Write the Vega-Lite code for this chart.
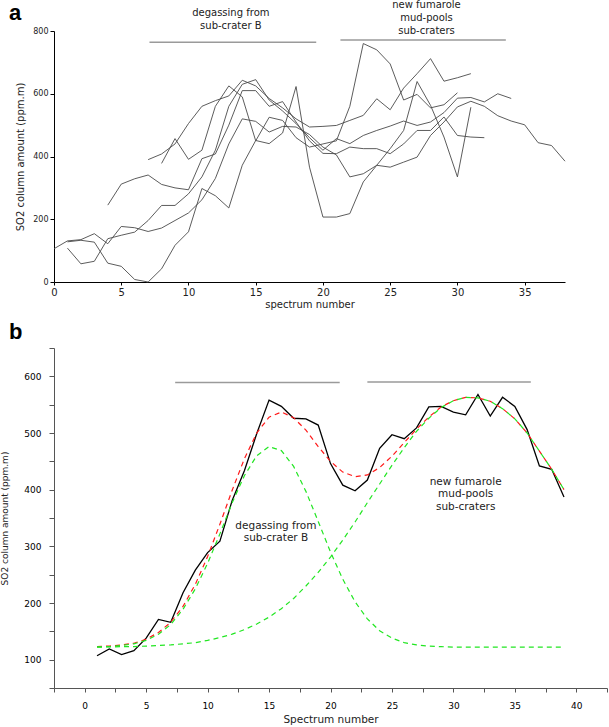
{
  "$schema": "https://vega.github.io/schema/vega-lite/v6.json",
  "padding": {"left": 0, "top": 0, "right": 0, "bottom": 0},
  "background": "white",
  "config": {"view": {"stroke": null}, "font": "DejaVu Sans", "title": {"font": "Liberation Sans"}},
  "datasets": {
    "a_lines": [
      {"s":"A","x":0,"y":106},{"s":"A","x":1,"y":131},{"s":"A","x":2,"y":135},{"s":"A","x":3,"y":154},{"s":"A","x":4,"y":122},{"s":"A","x":5,"y":177},{"s":"A","x":6,"y":173},{"s":"A","x":7,"y":161},{"s":"A","x":8,"y":172},{"s":"A","x":9,"y":196},{"s":"A","x":10,"y":220},{"s":"A","x":11,"y":262},{"s":"A","x":12,"y":330},{"s":"A","x":13,"y":440},{"s":"A","x":14,"y":520},{"s":"A","x":15,"y":512},{"s":"A","x":16,"y":478},{"s":"A","x":17,"y":496},{"s":"A","x":18,"y":494},{"s":"A","x":19,"y":470},{"s":"A","x":20,"y":430},{"s":"A","x":21,"y":405},{"s":"A","x":22,"y":335},{"s":"A","x":23,"y":345},{"s":"A","x":24,"y":372},{"s":"A","x":25,"y":366},{"s":"A","x":26,"y":382},{"s":"A","x":27,"y":398},{"s":"A","x":28,"y":467},{"s":"A","x":29,"y":510},{"s":"A","x":30,"y":558},{"s":"A","x":31,"y":576},{"s":"A","x":32,"y":560},{"s":"A","x":33,"y":530},{"s":"A","x":34,"y":513},{"s":"A","x":35,"y":501},{"s":"A","x":36,"y":444},{"s":"A","x":37,"y":435},{"s":"A","x":38,"y":385},
      {"s":"B","x":1,"y":108},{"s":"B","x":2,"y":58},{"s":"B","x":3,"y":66},{"s":"B","x":4,"y":138},{"s":"B","x":5,"y":149},{"s":"B","x":6,"y":159},{"s":"B","x":7,"y":196},{"s":"B","x":8,"y":244},{"s":"B","x":9,"y":244},{"s":"B","x":10,"y":281},{"s":"B","x":11,"y":335},{"s":"B","x":12,"y":420},{"s":"B","x":13,"y":560},{"s":"B","x":14,"y":630},{"s":"B","x":15,"y":645},{"s":"B","x":16,"y":580},{"s":"B","x":17,"y":545},{"s":"B","x":18,"y":505},{"s":"B","x":19,"y":460},{"s":"B","x":20,"y":420},{"s":"B","x":21,"y":457},{"s":"B","x":22,"y":441},{"s":"B","x":23,"y":467},{"s":"B","x":24,"y":483},{"s":"B","x":25,"y":497},{"s":"B","x":26,"y":513},{"s":"B","x":27,"y":499},{"s":"B","x":28,"y":510},{"s":"B","x":29,"y":540},{"s":"B","x":30,"y":586},{"s":"B","x":31,"y":588},{"s":"B","x":32,"y":574},{"s":"B","x":33,"y":600},{"s":"B","x":34,"y":585},
      {"s":"C","x":1,"y":128},{"s":"C","x":2,"y":133},{"s":"C","x":3,"y":127},{"s":"C","x":4,"y":60},{"s":"C","x":5,"y":50},{"s":"C","x":6,"y":8},{"s":"C","x":7,"y":0},{"s":"C","x":8,"y":42},{"s":"C","x":9,"y":117},{"s":"C","x":10,"y":160},{"s":"C","x":11,"y":298},{"s":"C","x":12,"y":275},{"s":"C","x":13,"y":236},{"s":"C","x":14,"y":372},{"s":"C","x":15,"y":451},{"s":"C","x":16,"y":441},{"s":"C","x":17,"y":475},{"s":"C","x":18,"y":623},{"s":"C","x":19,"y":366},{"s":"C","x":20,"y":207},{"s":"C","x":21,"y":207},{"s":"C","x":22,"y":218},{"s":"C","x":23,"y":319},{"s":"C","x":24,"y":372},{"s":"C","x":25,"y":425},{"s":"C","x":26,"y":483},{"s":"C","x":27,"y":639},{"s":"C","x":28,"y":563},{"s":"C","x":29,"y":462},{"s":"C","x":30,"y":335},{"s":"C","x":31,"y":557},
      {"s":"D","x":4,"y":245},{"s":"D","x":5,"y":312},{"s":"D","x":6,"y":329},{"s":"D","x":7,"y":341},{"s":"D","x":8,"y":311},{"s":"D","x":9,"y":300},{"s":"D","x":10,"y":294},{"s":"D","x":11,"y":393},{"s":"D","x":12,"y":408},{"s":"D","x":13,"y":500},{"s":"D","x":14,"y":610},{"s":"D","x":15,"y":610},{"s":"D","x":16,"y":560},{"s":"D","x":17,"y":575},{"s":"D","x":18,"y":510},{"s":"D","x":19,"y":450},{"s":"D","x":20,"y":410},{"s":"D","x":21,"y":409},{"s":"D","x":22,"y":430},{"s":"D","x":23,"y":425},{"s":"D","x":24,"y":425},{"s":"D","x":25,"y":409},{"s":"D","x":26,"y":440},{"s":"D","x":27,"y":483},{"s":"D","x":28,"y":483},{"s":"D","x":29,"y":526},{"s":"D","x":30,"y":467},{"s":"D","x":31,"y":462},{"s":"D","x":32,"y":460},
      {"s":"E","x":7,"y":390},{"s":"E","x":8,"y":408},{"s":"E","x":9,"y":440},{"s":"E","x":10,"y":505},{"s":"E","x":11,"y":560},{"s":"E","x":12,"y":578},{"s":"E","x":13,"y":593},{"s":"E","x":14,"y":643},{"s":"E","x":15,"y":625},{"s":"E","x":16,"y":585},{"s":"E","x":17,"y":555},{"s":"E","x":18,"y":520},{"s":"E","x":19,"y":494},{"s":"E","x":20,"y":496},{"s":"E","x":21,"y":499},{"s":"E","x":22,"y":515},{"s":"E","x":23,"y":531},{"s":"E","x":24,"y":584},{"s":"E","x":25,"y":549},{"s":"E","x":26,"y":618},{"s":"E","x":27,"y":664},{"s":"E","x":28,"y":712},{"s":"E","x":29,"y":640},{"s":"E","x":30,"y":651},{"s":"E","x":31,"y":664},
      {"s":"F","x":8,"y":378},{"s":"F","x":9,"y":457},{"s":"F","x":10,"y":391},{"s":"F","x":11,"y":420},{"s":"F","x":12,"y":560},{"s":"F","x":13,"y":625},{"s":"F","x":14,"y":590},{"s":"F","x":15,"y":450},{"s":"F","x":16,"y":525},{"s":"F","x":17,"y":515},{"s":"F","x":18,"y":460},{"s":"F","x":19,"y":430},{"s":"F","x":20,"y":440},{"s":"F","x":21,"y":450},{"s":"F","x":22,"y":560},{"s":"F","x":23,"y":760},{"s":"F","x":24,"y":740},{"s":"F","x":25,"y":695},{"s":"F","x":26,"y":580},{"s":"F","x":27,"y":598},{"s":"F","x":28,"y":555},{"s":"F","x":29,"y":565},{"s":"F","x":30,"y":603}
    ],
    "a_bars": [
      {"g":"1","x":7.1,"y":764},{"g":"1","x":19.5,"y":764},
      {"g":"2","x":21.3,"y":771},{"g":"2","x":33.6,"y":771}
    ],
    "a_text": [
      {"x":13.15,"y":856,"t":"degassing from"},
      {"x":13.15,"y":815,"t":"sub-crater B"},
      {"x":27.7,"y":882,"t":"new fumarole"},
      {"x":27.7,"y":840,"t":"mud-pools"},
      {"x":27.7,"y":799,"t":"sub-craters"}
    ],
    "b_obs": [
      {"x":1,"y":107},{"x":2,"y":119},{"x":3,"y":109},{"x":4,"y":116},{"x":5,"y":138},{"x":6,"y":171},{"x":7,"y":166},{"x":8,"y":218},{"x":9,"y":258},{"x":10,"y":289},{"x":11,"y":309},{"x":12,"y":381},{"x":13,"y":434},{"x":14,"y":499},{"x":15,"y":558},{"x":16,"y":547},{"x":17,"y":526},{"x":18,"y":525},{"x":19,"y":514},{"x":20,"y":446},{"x":21,"y":408},{"x":22,"y":398},{"x":23,"y":417},{"x":24,"y":473},{"x":25,"y":497},{"x":26,"y":490},{"x":27,"y":509},{"x":28,"y":546},{"x":29,"y":547},{"x":30,"y":537},{"x":31,"y":532},{"x":32,"y":568},{"x":33,"y":530},{"x":34,"y":563},{"x":35,"y":547},{"x":36,"y":506},{"x":37,"y":442},{"x":38,"y":436},{"x":39,"y":387}
    ],
    "b_fit": [
      {"c":"sum","x":1,"y":123},{"c":"sum","x":2,"y":124},{"c":"sum","x":3,"y":126},{"c":"sum","x":4,"y":129},{"c":"sum","x":5,"y":136},{"c":"sum","x":6,"y":148},{"c":"sum","x":7,"y":166},{"c":"sum","x":8,"y":194},{"c":"sum","x":9,"y":233},{"c":"sum","x":10,"y":282},{"c":"sum","x":11,"y":339},{"c":"sum","x":12,"y":399},{"c":"sum","x":13,"y":455},{"c":"sum","x":14,"y":500},{"c":"sum","x":15,"y":528},{"c":"sum","x":16,"y":537},{"c":"sum","x":17,"y":527},{"c":"sum","x":18,"y":505},{"c":"sum","x":19,"y":476},{"c":"sum","x":20,"y":450},{"c":"sum","x":21,"y":431},{"c":"sum","x":22,"y":423},{"c":"sum","x":23,"y":426},{"c":"sum","x":24,"y":439},{"c":"sum","x":25,"y":459},{"c":"sum","x":26,"y":483},{"c":"sum","x":27,"y":507},{"c":"sum","x":28,"y":528},{"c":"sum","x":29,"y":546},{"c":"sum","x":30,"y":557},{"c":"sum","x":31,"y":563},{"c":"sum","x":32,"y":562},{"c":"sum","x":33,"y":556},{"c":"sum","x":34,"y":543},{"c":"sum","x":35,"y":525},{"c":"sum","x":36,"y":500},{"c":"sum","x":37,"y":468},{"c":"sum","x":38,"y":436},{"c":"sum","x":39,"y":400},
      {"c":"g1","x":1,"y":122.5},{"c":"g1","x":2,"y":123},{"c":"g1","x":3,"y":125},{"c":"g1","x":4,"y":128},{"c":"g1","x":5,"y":134},{"c":"g1","x":6,"y":145},{"c":"g1","x":7,"y":162},{"c":"g1","x":8,"y":189},{"c":"g1","x":9,"y":225},{"c":"g1","x":10,"y":270},{"c":"g1","x":11,"y":322},{"c":"g1","x":12,"y":377},{"c":"g1","x":13,"y":425},{"c":"g1","x":14,"y":460},{"c":"g1","x":15,"y":476},{"c":"g1","x":16,"y":469},{"c":"g1","x":17,"y":441},{"c":"g1","x":18,"y":397},{"c":"g1","x":19,"y":344},{"c":"g1","x":20,"y":290},{"c":"g1","x":21,"y":242},{"c":"g1","x":22,"y":202},{"c":"g1","x":23,"y":172},{"c":"g1","x":24,"y":151},{"c":"g1","x":25,"y":138},{"c":"g1","x":26,"y":130},{"c":"g1","x":27,"y":126},{"c":"g1","x":28,"y":124},{"c":"g1","x":29,"y":123},{"c":"g1","x":30,"y":122},{"c":"g1","x":31,"y":122},{"c":"g1","x":32,"y":122},{"c":"g1","x":33,"y":122},{"c":"g1","x":34,"y":122},{"c":"g1","x":35,"y":122},{"c":"g1","x":36,"y":122},{"c":"g1","x":37,"y":122},{"c":"g1","x":38,"y":122},{"c":"g1","x":39,"y":122},
      {"c":"g2","x":1,"y":122},{"c":"g2","x":2,"y":122.5},{"c":"g2","x":3,"y":123},{"c":"g2","x":4,"y":123},{"c":"g2","x":5,"y":124},{"c":"g2","x":6,"y":125},{"c":"g2","x":7,"y":126},{"c":"g2","x":8,"y":128},{"c":"g2","x":9,"y":130},{"c":"g2","x":10,"y":134},{"c":"g2","x":11,"y":139},{"c":"g2","x":12,"y":145},{"c":"g2","x":13,"y":153},{"c":"g2","x":14,"y":163},{"c":"g2","x":15,"y":175},{"c":"g2","x":16,"y":190},{"c":"g2","x":17,"y":208},{"c":"g2","x":18,"y":230},{"c":"g2","x":19,"y":254},{"c":"g2","x":20,"y":281},{"c":"g2","x":21,"y":311},{"c":"g2","x":22,"y":343},{"c":"g2","x":23,"y":377},{"c":"g2","x":24,"y":410},{"c":"g2","x":25,"y":443},{"c":"g2","x":26,"y":474},{"c":"g2","x":27,"y":503},{"c":"g2","x":28,"y":526},{"c":"g2","x":29,"y":545},{"c":"g2","x":30,"y":557},{"c":"g2","x":31,"y":563},{"c":"g2","x":32,"y":562},{"c":"g2","x":33,"y":556},{"c":"g2","x":34,"y":543},{"c":"g2","x":35,"y":525},{"c":"g2","x":36,"y":500},{"c":"g2","x":37,"y":468},{"c":"g2","x":38,"y":436},{"c":"g2","x":39,"y":400}
    ],
    "b_bars": [
      {"g":"1","x":7.36,"y":589},{"g":"1","x":20.75,"y":589},
      {"g":"2","x":23.0,"y":590},{"g":"2","x":36.3,"y":590}
    ],
    "b_text": [
      {"x":15.56,"y":336,"t":"degassing from"},
      {"x":15.56,"y":314,"t":"sub-crater B"},
      {"x":31.0,"y":414,"t":"new fumarole"},
      {"x":31.0,"y":392,"t":"mud-pools"},
      {"x":31.0,"y":370,"t":"sub-craters"}
    ]
  },
  "vconcat": [
    {
      "width": 511,
      "height": 251,
      "title": {"text": "a", "anchor": "start", "frame": "group", "fontSize": 22, "fontWeight": "bold", "dx": -45, "dy": 29, "offset": 4, "color": "black"},
      "layer": [
        {
          "data": {"name": "a_lines"},
          "mark": {"type": "line", "color": "#4a4a4a", "strokeWidth": 0.9},
          "encoding": {
            "x": {"field": "x", "type": "quantitative", "title": "spectrum number", "scale": {"domain": [0, 38], "nice": false},
              "axis": {"values": [0, 5, 10, 15, 20, 25, 30, 35], "grid": false, "domainColor": "black", "tickColor": "black", "tickSize": 3, "labelFontSize": 10, "labelColor": "#222", "labelPadding": 2, "titleFontSize": 10, "titleFontWeight": "normal", "titleColor": "#222", "titlePadding": 2, "labelFlush": false, "labelOverlap": false}},
            "y": {"field": "y", "type": "quantitative", "title": "SO2 column amount (ppm.m)", "scale": {"domain": [0, 800], "nice": false},
              "axis": {"values": [0, 100, 200, 300, 400, 500, 600, 700, 800], "labelExpr": "datum.value % 200 === 0 ? datum.label : ''", "grid": false, "domainColor": "black", "tickColor": "black", "tickSize": 4, "labelFontSize": 8, "labelColor": "#222", "labelPadding": 2, "titleFontSize": 10, "titleFontWeight": "normal", "titleColor": "#222", "titlePadding": 7, "labelFlush": false, "labelOverlap": false}},
            "detail": {"field": "s"}
          }
        },
        {
          "data": {"name": "a_bars"},
          "mark": {"type": "line", "color": "#9a9a9a", "strokeWidth": 1.5},
          "encoding": {
            "x": {"field": "x", "type": "quantitative", "title": "spectrum number"},
            "y": {"field": "y", "type": "quantitative", "title": "SO2 column amount (ppm.m)"},
            "detail": {"field": "g"}
          }
        },
        {
          "data": {"name": "a_text"},
          "mark": {"type": "text", "fontSize": 10, "color": "#222", "font": "DejaVu Sans"},
          "encoding": {
            "x": {"field": "x", "type": "quantitative", "title": "spectrum number"},
            "y": {"field": "y", "type": "quantitative", "title": "SO2 column amount (ppm.m)"},
            "text": {"field": "t"}
          }
        }
      ]
    },
    {
      "width": 553,
      "height": 340,
      "title": {"text": "b", "anchor": "start", "frame": "group", "fontSize": 22, "fontWeight": "bold", "dx": -45, "offset": 4, "color": "black"},
      "resolve": {"axis": {"x": "independent", "y": "independent"}},
      "layer": [
        {
          "data": {"name": "b_obs"},
          "mark": {"type": "line", "color": "black", "strokeWidth": 1.3},
          "encoding": {
            "x": {"field": "x", "type": "quantitative", "title": "Spectrum number", "scale": {"domain": [-2.5, 42.5], "nice": false},
              "axis": {"orient": "bottom", "values": [0, 5, 10, 15, 20, 25, 30, 35, 40], "grid": false, "domainColor": "#555", "tickColor": "#555", "tickSize": 4, "labelFontSize": 9, "labelColor": "black", "labelPadding": 9, "titleFontSize": 10.5, "titleFontWeight": "normal", "titleColor": "#222", "titlePadding": 4, "labelFlush": false, "labelOverlap": false}},
            "y": {"field": "y", "type": "quantitative", "title": "SO2 column amount (ppm.m)", "scale": {"domain": [50, 650], "nice": false},
              "axis": {"orient": "left", "values": [100, 200, 300, 400, 500, 600], "grid": false, "domainColor": "#555", "tickColor": "#555", "tickSize": 5, "labelFontSize": 9, "labelColor": "black", "labelPadding": 8, "titleFontSize": 9, "titleFontWeight": "normal", "titleColor": "#222", "titlePadding": 14, "labelFlush": false, "labelOverlap": false}}
          }
        },
        {
          "data": {"name": "b_bars"},
          "mark": {"type": "line", "color": "#9a9a9a", "strokeWidth": 1.5},
          "encoding": {
            "x": {"field": "x", "type": "quantitative", "title": null,
              "axis": {"orient": "bottom", "values": [-2.5, 2.5, 7.5, 12.5, 17.5, 22.5, 27.5, 32.5, 37.5, 42.5], "labels": false, "domain": false, "grid": false, "tickColor": "#555", "tickSize": 4, "title": null}},
            "y": {"field": "y", "type": "quantitative", "title": null,
              "axis": {"orient": "left", "values": [50, 150, 250, 350, 450, 550, 650], "labels": false, "domain": false, "grid": false, "tickColor": "#555", "tickSize": 5, "title": null}},
            "detail": {"field": "g"}
          }
        },
        {
          "data": {"name": "b_fit"},
          "mark": {"type": "line", "strokeWidth": 1.2, "strokeDash": [5, 4]},
          "encoding": {
            "x": {"field": "x", "type": "quantitative", "axis": null},
            "y": {"field": "y", "type": "quantitative", "axis": null},
            "color": {"field": "c", "type": "nominal", "scale": {"domain": ["sum", "g1", "g2"], "range": ["#ff1a1a", "#22e622", "#22e622"]}, "legend": null},
            "detail": {"field": "c"}
          }
        },
        {
          "data": {"name": "b_text"},
          "mark": {"type": "text", "fontSize": 10.5, "color": "#222", "font": "DejaVu Sans"},
          "encoding": {
            "x": {"field": "x", "type": "quantitative", "axis": null},
            "y": {"field": "y", "type": "quantitative", "axis": null},
            "text": {"field": "t"}
          }
        }
      ]
    }
  ],
  "bounds": "flush",
  "spacing": 66
}
